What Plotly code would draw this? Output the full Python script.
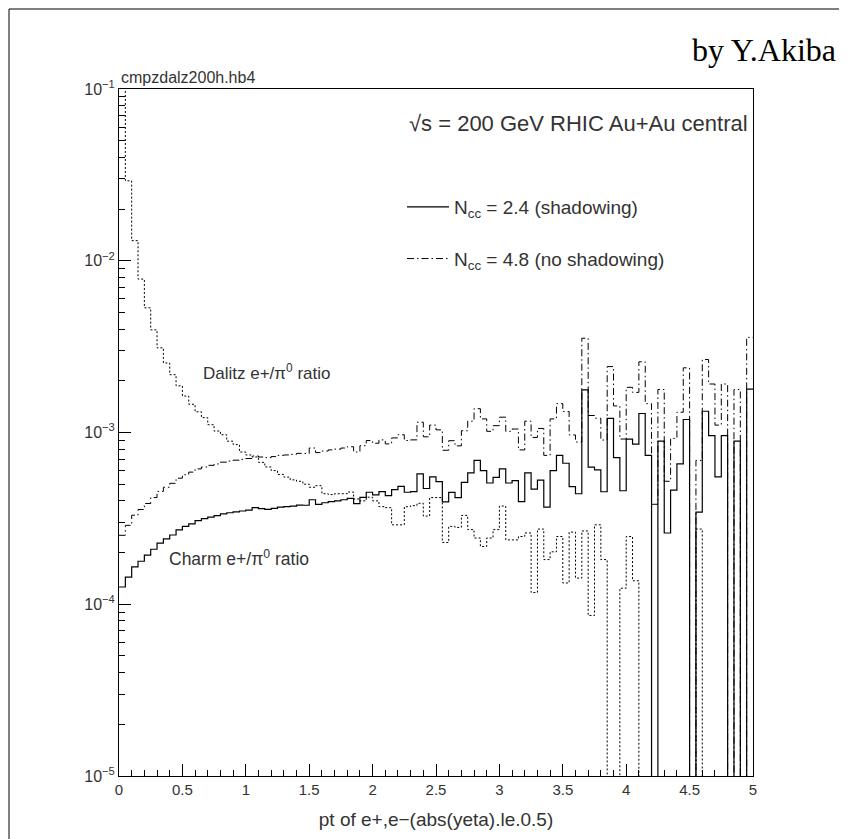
import plotly.graph_objects as go

# ---------------- data ----------------
BIN_WIDTH = 0.05  # GeV/c, 100 bins from 0 to 5

# Dalitz e+/pi0 ratio (dotted); first bin is above the frame, 0 = empty bin
dalitz = [
    0.2, 0.0292, 0.0131, 0.00782, 0.00532, 0.00396, 0.00311, 0.00254, 0.00217, 0.00187,
    0.00163, 0.00146, 0.00132, 0.00122, 0.00111, 0.00102, 0.00097, 0.00089, 0.00085, 0.00077,
    0.00074, 0.00072, 0.00067, 0.00063, 0.00060, 0.00057, 0.00055, 0.00053, 0.00052, 0.00050,
    0.00048, 0.00049, 0.00044, 0.000435, 0.00044, 0.00044, 0.00045, 0.00041, 0.00040, 0.00042,
    0.00040, 0.00037, 0.000365, 0.00029, 0.00029, 0.00037, 0.000375, 0.000387, 0.000326, 0.000418,
    0.000418, 0.000229, 0.000284, 0.00028, 0.000329, 0.000272, 0.000243, 0.000217, 0.000243, 0.000272,
    0.000373, 0.000237, 0.000237, 0.000248, 0.00026, 0.000117, 0.000274, 0.000182, 0.000202, 0.000248,
    0.000133, 0.000263, 0.000142, 0.000267, 0.000086, 0.00029, 0.000182, 0, 0, 0.000124,
    0.000248, 0.000137, 0, 0, 0, 0, 0, 0, 0, 0,
    0, 0.000274, 0, 0, 0, 0, 0, 0, 0, 0,
]

# Charm e+/pi0 ratio, N_cc = 2.4 (shadowing), solid
charm_shadowing = [
    1.26e-4, 1.44e-4, 1.65e-4, 1.78e-4, 1.93e-4, 2.09e-4, 2.27e-4, 2.40e-4, 2.53e-4, 2.71e-4,
    2.84e-4, 2.94e-4, 3.07e-4, 3.15e-4, 3.22e-4, 3.28e-4, 3.36e-4, 3.41e-4, 3.45e-4, 3.49e-4,
    3.53e-4, 3.65e-4, 3.60e-4, 3.57e-4, 3.62e-4, 3.68e-4, 3.70e-4, 3.73e-4, 3.78e-4, 3.77e-4,
    4.06e-4, 3.82e-4, 3.90e-4, 3.96e-4, 4.00e-4, 4.06e-4, 4.13e-4, 3.85e-4, 4.19e-4, 4.49e-4,
    4.33e-4, 4.53e-4, 4.29e-4, 4.65e-4, 4.85e-4, 4.49e-4, 4.53e-4, 5.74e-4, 4.72e-4, 5.52e-4,
    5.18e-4, 3.94e-4, 4.48e-4, 4.18e-4, 5.12e-4, 5.82e-4, 6.88e-4, 6.00e-4, 5.08e-4, 5.48e-4,
    6.14e-4, 5.08e-4, 5.24e-4, 3.96e-4, 5.82e-4, 4.68e-4, 5.28e-4, 3.68e-4, 6.00e-4, 7.36e-4,
    6.62e-4, 4.84e-4, 4.40e-4, 1.77e-3, 6.28e-4, 6.06e-4, 4.52e-4, 1.21e-3, 7.14e-4, 4.58e-4,
    9.16e-4, 8.56e-4, 1.29e-3, 7.36e-4, 0, 8.90e-4, 2.60e-4, 4.62e-4, 6.56e-4, 1.19e-3,
    0, 3.44e-4, 1.33e-3, 9.58e-4, 5.52e-4, 9.58e-4, 0, 8.90e-4, 0, 1.79e-3,
]

# Charm e+/pi0 ratio, N_cc = 4.8 (no shadowing), dash-dot
charm_no_shadowing = [
    2.52e-4, 2.88e-4, 3.30e-4, 3.56e-4, 3.86e-4, 4.18e-4, 4.54e-4, 4.80e-4, 5.06e-4, 5.42e-4,
    5.68e-4, 5.88e-4, 6.14e-4, 6.30e-4, 6.44e-4, 6.56e-4, 6.72e-4, 6.82e-4, 6.90e-4, 6.98e-4,
    7.06e-4, 7.30e-4, 7.20e-4, 7.14e-4, 7.24e-4, 7.36e-4, 7.40e-4, 7.46e-4, 7.56e-4, 7.54e-4,
    8.12e-4, 7.64e-4, 7.80e-4, 7.92e-4, 8.00e-4, 8.12e-4, 8.26e-4, 7.70e-4, 8.38e-4, 8.98e-4,
    8.66e-4, 9.06e-4, 8.58e-4, 9.30e-4, 9.70e-4, 8.98e-4, 9.06e-4, 1.148e-3, 9.44e-4, 1.104e-3,
    1.036e-3, 7.88e-4, 8.96e-4, 8.36e-4, 1.024e-3, 1.164e-3, 1.376e-3, 1.200e-3, 1.016e-3, 1.096e-3,
    1.228e-3, 1.016e-3, 1.048e-3, 7.92e-4, 1.164e-3, 9.36e-4, 1.056e-3, 7.36e-4, 1.200e-3, 1.472e-3,
    1.324e-3, 9.68e-4, 8.80e-4, 3.54e-3, 1.256e-3, 1.212e-3, 9.04e-4, 2.42e-3, 1.428e-3, 9.16e-4,
    1.832e-3, 1.712e-3, 2.58e-3, 1.472e-3, 3.82e-4, 1.78e-3, 5.20e-4, 9.24e-4, 1.312e-3, 2.38e-3,
    0, 6.88e-4, 2.66e-3, 1.916e-3, 1.104e-3, 1.916e-3, 0, 1.78e-3, 0, 3.58e-3,
]

x_tick_vals = [0, 0.5, 1, 1.5, 2, 2.5, 3, 3.5, 4, 4.5, 5]
x_tick_text = ["0", "0.5", "1", "1.5", "2", "2.5", "3", "3.5", "4", "4.5", "5"]
y_tick_vals = [1e-5, 1e-4, 1e-3, 1e-2, 1e-1]
y_tick_text = ["10<sup>−5</sup>", "10<sup>−4</sup>", "10<sup>−3</sup>", "10<sup>−2</sup>", "10<sup>−1</sup>"]

# ---------------- layout geometry ----------------
W, H = 847, 839
ML, MR, MT, MB = 111, 102, 81, 71
PW, PH = W - ML - MR, H - MT - MB
FLOOR = 1e-7  # empty bins drawn down past the bottom of the log axis
TXT = "#333333"
FONT = "Liberation Sans, Arial, sans-serif"


def step_xy(vals):
    xs = [i * BIN_WIDTH for i in range(len(vals) + 1)]
    ys = [v if v > 0 else FLOOR for v in vals]
    ys = ys + [ys[-1]]
    return xs, ys


def px_x(p):
    return (p - ML) / PW


def px_y(p):
    return (H - MB - p) / PH


fig = go.Figure()

xs, ys = step_xy(dalitz)
fig.add_trace(go.Scatter(x=xs, y=ys, mode="lines", line_shape="hv",
                         line=dict(color="black", width=1, dash="2px,2px"),
                         showlegend=False, hoverinfo="skip"))

xs, ys = step_xy(charm_shadowing)
fig.add_trace(go.Scatter(x=xs, y=ys, mode="lines", line_shape="hv",
                         line=dict(color="black", width=1.2),
                         name="N<sub>cc</sub> = 2.4 (shadowing)", legendgroup="a"))

xs, ys = step_xy(charm_no_shadowing)
fig.add_trace(go.Scatter(x=xs, y=ys, mode="lines", line_shape="hv",
                         line=dict(color="black", width=1, dash="7px,3px,1.5px,3px"),
                         name="N<sub>cc</sub> = 4.8 (no shadowing)", legendgroup="b"))

minor_y = [k * 10.0 ** e for e in range(-5, -1) for k in range(2, 10)]

fig.update_xaxes(
    range=[0, 5], showgrid=False, zeroline=False,
    showline=True, linecolor="black", linewidth=1, mirror=True,
    ticks="inside", ticklen=12, tickcolor="black", tickwidth=1,
    tickvals=x_tick_vals, ticktext=x_tick_text,
    minor=dict(ticks="inside", ticklen=6, tickcolor="black", dtick=0.1, showgrid=False),
    tickfont=dict(family=FONT, size=15, color=TXT),
    title=dict(text="pt of e+,e−(abs(yeta).le.0.5)", font=dict(family=FONT, size=19, color=TXT),
               standoff=15),
)
fig.update_yaxes(
    type="log", range=[-5, -1], showgrid=False, zeroline=False,
    showline=True, linecolor="black", linewidth=1, mirror=True,
    ticks="inside", ticklen=12, tickcolor="black", tickwidth=1,
    tickvals=y_tick_vals, ticktext=y_tick_text,
    minor=dict(ticks="inside", ticklen=6, tickcolor="black", tickvals=minor_y, showgrid=False),
    tickfont=dict(family=FONT, size=16, color=TXT),
)

annotations = [
    dict(text="√s = 200 GeV RHIC Au+Au central", xref="x", yref="y", x=4.98, y=-1.20,
         xanchor="right", yanchor="middle", showarrow=False,
         font=dict(family=FONT, size=22, color=TXT)),
    dict(text="Dalitz e+/π<sup>0</sup> ratio", xref="x", yref="y", x=0.65, y=-2.65,
         xanchor="left", yanchor="middle", showarrow=False,
         font=dict(family=FONT, size=17, color=TXT)),
    dict(text="Charm e+/π<sup>0</sup> ratio", xref="x", yref="y", x=0.38, y=-3.73,
         xanchor="left", yanchor="middle", showarrow=False,
         font=dict(family=FONT, size=17.5, color=TXT)),
    dict(text="cmpzdalz200h.hb4", xref="paper", yref="paper", x=0, y=1, yshift=1,
         xanchor="left", yanchor="bottom", showarrow=False,
         font=dict(family=FONT, size=16, color=TXT)),
    dict(text="by Y.Akiba", xref="paper", yref="paper", x=px_x(830), y=px_y(42),
         xanchor="right", yanchor="middle", showarrow=False,
         font=dict(family="Liberation Serif, Times New Roman, serif", size=32, color="black")),
]

shapes = [
    dict(type="rect", xref="paper", yref="paper",
         x0=px_x(1), x1=px_x(W - 2), y0=px_y(H - 2), y1=px_y(1),
         line=dict(color="black", width=1), fillcolor="rgba(0,0,0,0)", layer="below"),
]

fig.update_layout(
    width=W, height=H,
    margin=dict(l=ML, r=MR, t=MT, b=MB, pad=0),
    paper_bgcolor="white", plot_bgcolor="white",
    annotations=annotations, shapes=shapes,
    legend=dict(x=px_x(394), y=px_y(180), xanchor="left", yanchor="top",
                bgcolor="rgba(0,0,0,0)", font=dict(family=FONT, size=19, color=TXT),
                tracegroupgap=24, itemwidth=42),
)

fig.write_html("out.html")
